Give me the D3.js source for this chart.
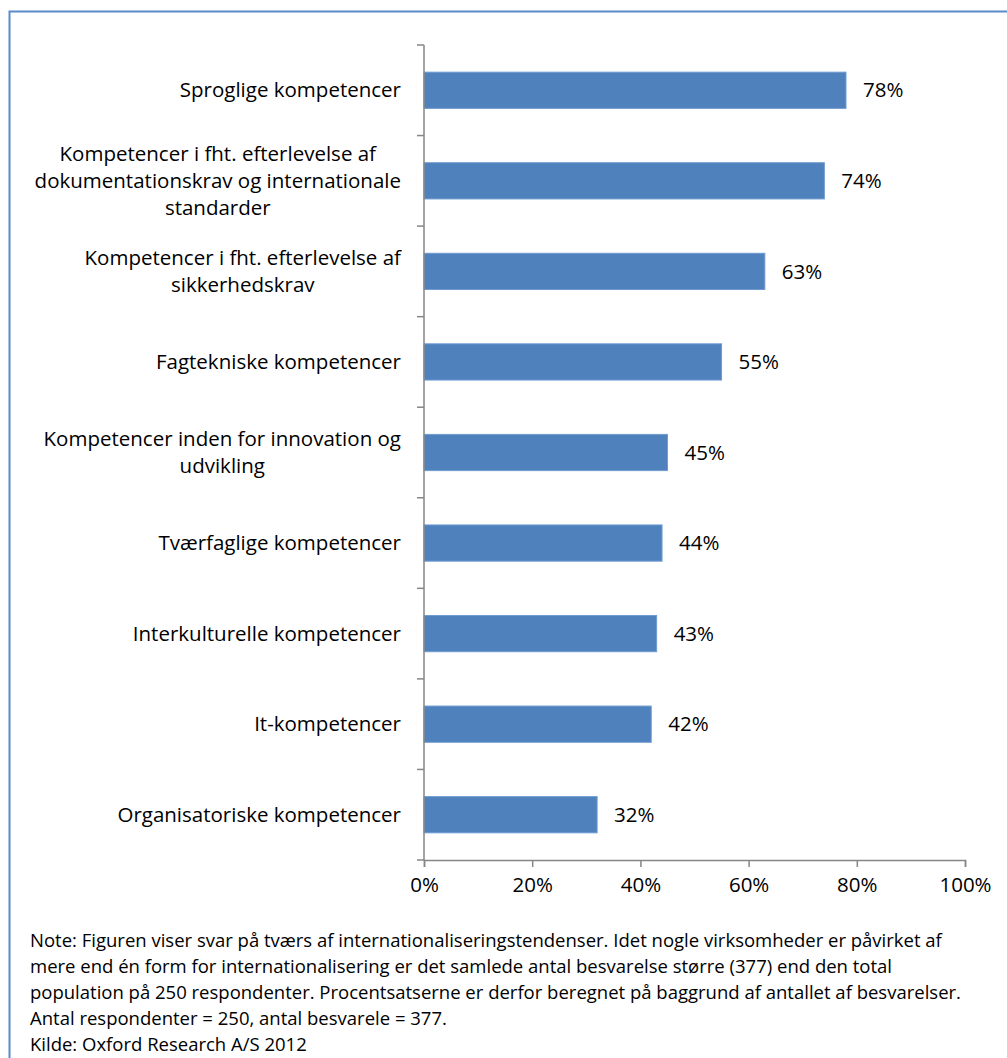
<!DOCTYPE html>
<html>
<head>
<meta charset="utf-8">
<script src="https://cdn.jsdelivr.net/npm/d3@7"></script>
<style>
  body { margin: 0; background: #fff; }
  svg text { font-family: "Open Sans", sans-serif; fill: #000; }
</style>
</head>
<body>
<svg id="chart"></svg>
<script>
const width = 1007;
const height = 1058;

// data
const categories = [
  ["Sproglige kompetencer"],
  ["Kompetencer i fht. efterlevelse af", "dokumentationskrav og internationale", "standarder"],
  ["Kompetencer i fht. efterlevelse af", "sikkerhedskrav"],
  ["Fagtekniske kompetencer"],
  ["Kompetencer inden for innovation og", "udvikling"],
  ["Tværfaglige kompetencer"],
  ["Interkulturelle kompetencer"],
  ["It-kompetencer"],
  ["Organisatoriske kompetencer"]
];
const values = [78, 74, 63, 55, 45, 44, 43, 42, 32];
const xTicks = [0, 20, 40, 60, 80, 100];
const noteLines = [
  "Note: Figuren viser svar på tværs af internationaliseringstendenser. Idet nogle virksomheder er påvirket af",
  "mere end én form for internationalisering er det samlede antal besvarelse større (377) end den total",
  "population på 250 respondenter. Procentsatserne er derfor beregnet på baggrund af antallet af besvarelser.",
  "Antal respondenter = 250, antal besvarele = 377.",
  "Kilde: Oxford Research A/S 2012"
];

const plot = {left: 424, right: 965, top: 45, bottom: 860};
const axisColor = "#868686";
const barColor = "#4f81bd";
const fs = "20.5px";

const svg = d3.select("#chart")
    .attr("width", width).attr("height", height);

// outer frame
svg.append("rect")
    .attr("x", 9.5).attr("y", 11.5)
    .attr("width", width).attr("height", height)
    .attr("fill", "none")
    .attr("stroke", "#5b8bc9")
    .attr("stroke-width", 2);

const x = d3.scaleLinear().domain([0, 100]).range([plot.left, plot.right]);
const y = d3.scaleBand()
    .domain(d3.range(categories.length))
    .range([plot.top, plot.bottom])
    .paddingInner(0.6).paddingOuter(0.3);

// boundaries between categories for the y ticks
const yBound = d3.scaleLinear().domain([0, categories.length]).range([plot.top, plot.bottom]);

// bars
svg.append("g").selectAll("rect")
    .data(values)
    .enter().append("rect")
    .attr("x", x(0))
    .attr("y", (d, i) => y(i))
    .attr("width", d => x(d) - x(0))
    .attr("height", y.bandwidth())
    .attr("fill", barColor)
    .attr("stroke", "#6f9bd1")
    .attr("stroke-width", 1);

// value labels
svg.append("g").selectAll("text")
    .data(values)
    .enter().append("text")
    .attr("x", d => x(d) + 17)
    .attr("y", (d, i) => y(i) + y.bandwidth() / 2)
    .attr("dy", "0.35em")
    .style("font-size", fs)
    .text(d => d + "%");

// y axis line + ticks
const axes = svg.append("g")
    .attr("stroke", axisColor)
    .attr("stroke-width", 1.5)
    .attr("fill", "none");
axes.append("line")
    .attr("x1", plot.left).attr("x2", plot.left)
    .attr("y1", plot.top).attr("y2", plot.bottom);
axes.selectAll(".ytick")
    .data(d3.range(categories.length + 1))
    .enter().append("line")
    .attr("x1", plot.left - 7).attr("x2", plot.left)
    .attr("y1", d => yBound(d)).attr("y2", d => yBound(d));

// x axis via d3
const xAxis = svg.append("g")
    .attr("transform", `translate(0,${plot.bottom})`)
    .call(d3.axisBottom(x).tickValues(xTicks).tickSize(7).tickPadding(10).tickFormat(d => d + "%"));
xAxis.select(".domain").attr("stroke", axisColor).attr("stroke-width", 1.5);
xAxis.selectAll(".tick line").attr("stroke", axisColor).attr("stroke-width", 1.5);
xAxis.selectAll(".tick text")
    .style("font-family", "'Open Sans', sans-serif")
    .style("font-size", fs)
    .attr("fill", "#000");

// category labels, each block right-aligned, lines centered
const lineH = 27;
const labelG = svg.append("g");
categories.forEach((lines, i) => {
  const g = labelG.append("g");
  const cy = y(i) + y.bandwidth() / 2;
  const texts = lines.map((s, j) => g.append("text")
      .attr("y", cy + (j - (lines.length - 1) / 2) * lineH)
      .attr("dy", "0.35em")
      .attr("text-anchor", "middle")
      .style("font-size", fs)
      .text(s));
  const maxW = d3.max(texts, t => t.node().getComputedTextLength());
  texts.forEach(t => t.attr("x", 401 - maxW / 2));
});

// note text
svg.append("g").selectAll("text")
    .data(noteLines)
    .enter().append("text")
    .attr("x", 30)
    .attr("y", (d, i) => 947 + i * 26)
    .style("font-size", "18.5px")
    .text(d => d);
</script>
</body>
</html>
